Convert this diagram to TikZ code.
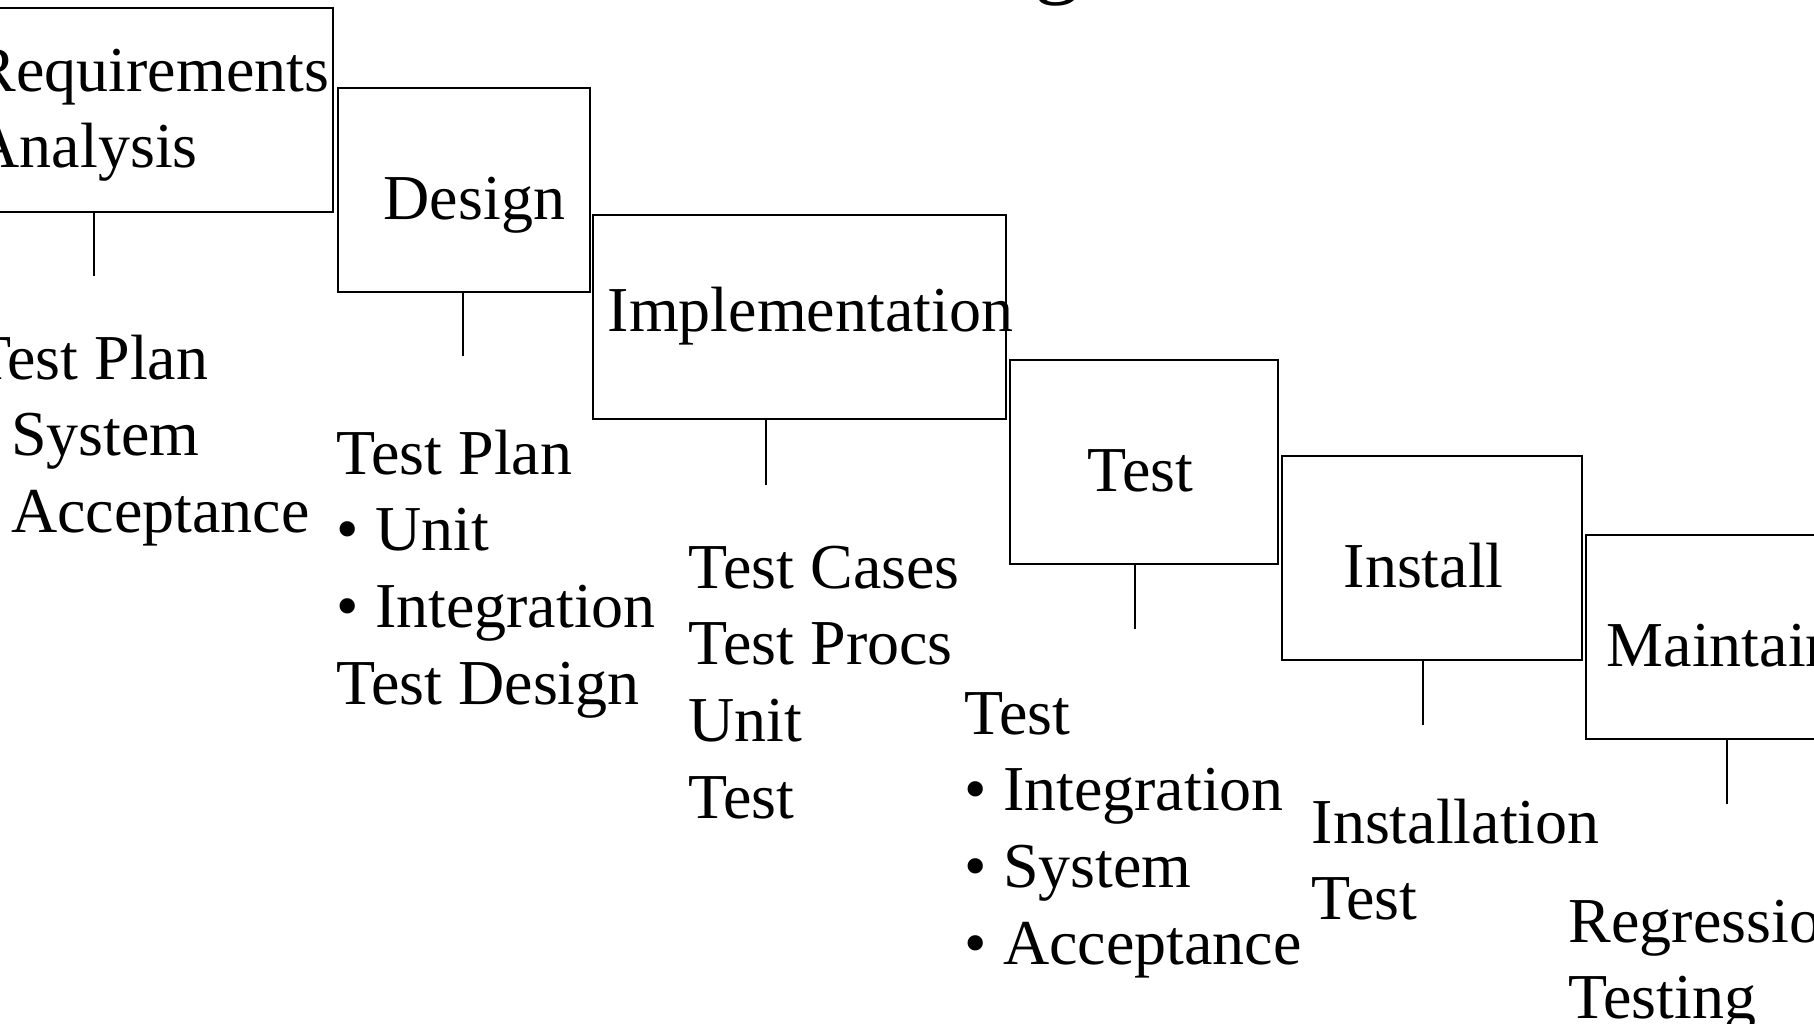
\documentclass[tikz,border=0pt]{standalone}
\usepackage{fontspec}
\setmainfont{Liberation Serif}
% stack of left-aligned lines whose baseline is the first line's baseline
\newcommand\colstack[1]{\vtop{\halign{##\hfil\cr#1\crcr}}}
\begin{document}
\begin{tikzpicture}[x=0.01cm,y=-0.01cm,
  phase/.style={draw, line width=0.6pt, anchor=north west, inner sep=0pt},
  txt/.style={anchor=base west, inner sep=0pt, font=\fontsize{18.2}{21.8}\selectfont},
  link/.style={line width=0.55pt}]
\useasboundingbox (0,0) rectangle (1814,1023);

% heading fragment at the top edge
\node[anchor=base, inner sep=0pt, font=\fontsize{26}{30}\selectfont] (head) at (1057,-14) {g};

% phase boxes
\node[phase, minimum width=4.32cm, minimum height=2.04cm] (req) at (-100,7) {};
\node[phase, minimum width=2.52cm, minimum height=2.04cm] (des) at (337,87) {};
\node[phase, minimum width=4.13cm, minimum height=2.04cm] (imp) at (592,214) {};
\node[phase, minimum width=2.68cm, minimum height=2.04cm] (tst) at (1009,359) {};
\node[phase, minimum width=3.00cm, minimum height=2.04cm] (ins) at (1281,455) {};
\node[phase, minimum width=4.00cm, minimum height=2.04cm] (mnt) at (1585,534) {};

% box titles
\node[txt] (reqlbl) at (-27,91) {\colstack{Requirements\cr Analysis}};
\node[txt] (deslbl) at (383,219) {Design};
\node[txt] (implbl) at (607,331) {Implementation};
\node[txt] (tstlbl) at (1087,491) {Test};
\node[txt] (inslbl) at (1343,587) {Install};
\node[txt] (mntlbl) at (1606,666) {Maintain};

% ends of the drop lines
\coordinate (reqend) at (94,276);
\coordinate (desend) at (463,356);
\coordinate (impend) at (766,485);
\coordinate (tstend) at (1135,629);
\coordinate (insend) at (1423,725);
\coordinate (mntend) at (1727,804);

\draw[link] (req.south -| reqend) -- (reqend);
\draw[link] (des.south -| desend) -- (desend);
\draw[link] (imp.south -| impend) -- (impend);
\draw[link] (tst.south -| tstend) -- (tstend);
\draw[link] (ins.south -| insend) -- (insend);
\draw[link] (mnt.south -| mntend) -- (mntend);

% testing activities of each phase
\node[txt] (reqtests) at (-28,379) {\colstack{Test Plan\cr • System\cr • Acceptance}};
\node[txt] (destests) at (336,474) {\colstack{Test Plan\cr • Unit\cr • Integration\cr Test Design}};
\node[txt] (imptests) at (688,588) {\colstack{Test Cases\cr Test Procs\cr Unit\cr Test}};
\node[txt] (tsttests) at (964,734) {\colstack{Test\cr • Integration\cr • System\cr • Acceptance}};
\node[txt] (instests) at (1311,843) {\colstack{Installation\cr Test}};
\node[txt] (mnttests) at (1568,942) {\colstack{Regression\cr Testing}};
\end{tikzpicture}
\end{document}
